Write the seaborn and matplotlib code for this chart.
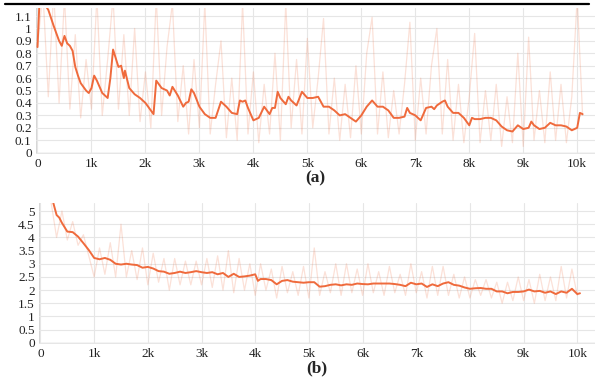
import numpy as np
import pandas as pd
import matplotlib.pyplot as plt
import seaborn as sns
from matplotlib.lines import Line2D

# --- Data ---
# panel (a): smoothed curve
A_STEPS = [0, 40, 200, 300, 400, 450, 500, 550, 600, 650, 700, 750, 800, 900, 950,
           1000, 1050, 1100, 1200, 1300, 1350, 1400, 1500, 1550, 1600, 1620, 1700,
           1800, 1900, 2000, 2100, 2150, 2200, 2300, 2400, 2450, 2500, 2600, 2700,
           2750, 2800, 2850, 2900, 3000, 3100, 3200, 3300, 3400, 3500, 3600, 3700,
           3750, 3800, 3850, 3900, 4000, 4100, 4200, 4300, 4350, 4400, 4450, 4500,
           4600, 4650, 4700, 4800, 4900, 5000, 5100, 5200, 5300, 5400, 5500, 5600,
           5700, 5800, 5900, 6000, 6100, 6200, 6300, 6400, 6500, 6600, 6700, 6800,
           6850, 6900, 7000, 7100, 7200, 7300, 7350, 7400, 7500, 7550, 7600, 7700,
           7800, 7900, 8000, 8050, 8100, 8200, 8300, 8400, 8500, 8600, 8700, 8800,
           8900, 9000, 9100, 9150, 9200, 9300, 9400, 9500, 9600, 9700, 9800, 9900,
           10000, 10050, 10100]
A_SMOOTH = [0.85, 1.25, 1.15, 1.02, 0.90, 0.86, 0.94, 0.88, 0.86, 0.82, 0.69, 0.62,
            0.56, 0.50, 0.48, 0.52, 0.62, 0.58, 0.48, 0.44, 0.60, 0.83, 0.69, 0.70,
            0.60, 0.66, 0.52, 0.47, 0.44, 0.40, 0.34, 0.31, 0.58, 0.52, 0.50, 0.46,
            0.53, 0.46, 0.37, 0.40, 0.41, 0.51, 0.48, 0.37, 0.31, 0.28, 0.28, 0.41,
            0.37, 0.32, 0.31, 0.42, 0.41, 0.42, 0.36, 0.26, 0.28, 0.37, 0.31, 0.36,
            0.36, 0.49, 0.44, 0.39, 0.45, 0.42, 0.38, 0.49, 0.44, 0.44, 0.45, 0.37,
            0.37, 0.34, 0.30, 0.31, 0.28, 0.25, 0.30, 0.37, 0.42, 0.37, 0.37, 0.34,
            0.28, 0.28, 0.29, 0.36, 0.32, 0.30, 0.26, 0.36, 0.37, 0.35, 0.38, 0.41,
            0.42, 0.37, 0.32, 0.32, 0.28, 0.22, 0.28, 0.27, 0.27, 0.28, 0.28, 0.26,
            0.21, 0.18, 0.17, 0.22, 0.19, 0.20, 0.25, 0.22, 0.19, 0.20, 0.24, 0.22,
            0.22, 0.21, 0.18, 0.20, 0.32, 0.31]

# panel (a): raw (unsmoothed) values, one per 100 steps
A_RAW_STEPS = list(range(0, 10200, 100))
A_RAW = [0.85, 1.30, 0.45, 1.30, 0.40, 1.25, 0.35, 0.95, 0.28, 0.75,
         0.35, 1.25, 0.30, 0.75, 1.25, 0.35, 0.95, 0.30, 1.00, 0.25,
         0.65, 0.20, 1.25, 0.30, 0.85, 1.20, 0.25, 0.70, 0.15, 0.75,
         0.20, 1.20, 0.15, 0.55, 0.90, 0.12, 0.60, 0.10, 1.20, 0.15,
         0.65, 0.08, 0.55, 0.15, 0.80, 0.10, 1.20, 0.20, 0.75, 0.15,
         0.92, 0.20, 0.60, 1.08, 0.15, 0.60, 0.10, 0.55, 0.12, 0.70,
         0.15, 0.80, 1.09, 0.15, 0.65, 0.12, 0.50, 0.15, 0.55, 1.05,
         0.10, 0.60, 0.15, 0.70, 1.00, 0.15, 0.75, 0.10, 0.55, 0.08,
         0.45, 0.96, 0.08, 0.50, 0.10, 0.55, 0.05, 0.45, 0.08, 0.80,
         0.05, 0.93, 0.10, 0.50, 0.08, 0.65, 0.10, 0.55, 0.08, 0.45,
         1.25, 0.30]

# panel (b): smoothed curve
B_STEPS = [240, 300, 350, 400, 500, 600, 700, 800, 900, 1000, 1100, 1200, 1300,
           1400, 1500, 1600, 1700, 1800, 1900, 2000, 2100, 2200, 2300, 2400, 2500,
           2600, 2700, 2800, 2900, 3000, 3100, 3200, 3300, 3400, 3500, 3600, 3700,
           3800, 3900, 4000, 4050, 4100, 4200, 4300, 4400, 4500, 4600, 4700, 4800,
           4900, 5000, 5100, 5200, 5300, 5400, 5500, 5600, 5700, 5800, 5900, 6000,
           6100, 6200, 6300, 6400, 6500, 6600, 6700, 6800, 6900, 7000, 7100, 7200,
           7300, 7400, 7500, 7600, 7700, 7800, 7900, 8000, 8100, 8200, 8300, 8400,
           8500, 8600, 8700, 8800, 8900, 9000, 9100, 9200, 9300, 9400, 9500, 9600,
           9700, 9800, 9900, 10000, 10050]
B_SMOOTH = [5.30, 4.85, 4.75, 4.55, 4.22, 4.20, 4.03, 3.78, 3.52, 3.22, 3.17, 3.22,
            3.15, 3.00, 2.97, 3.00, 2.97, 2.95, 2.85, 2.88, 2.82, 2.72, 2.70, 2.62,
            2.65, 2.70, 2.65, 2.68, 2.72, 2.68, 2.65, 2.68, 2.60, 2.65, 2.50, 2.62,
            2.50, 2.52, 2.55, 2.60, 2.35, 2.42, 2.42, 2.38, 2.22, 2.35, 2.38, 2.32,
            2.30, 2.28, 2.30, 2.30, 2.13, 2.15, 2.20, 2.22, 2.18, 2.22, 2.20, 2.25,
            2.23, 2.22, 2.25, 2.25, 2.25, 2.25, 2.23, 2.20, 2.15, 2.28, 2.22, 2.25,
            2.12, 2.22, 2.15, 2.25, 2.30, 2.20, 2.17, 2.10, 2.05, 2.07, 2.08, 2.05,
            2.05, 1.95, 1.95, 1.88, 1.93, 1.93, 1.95, 2.02, 1.95, 1.97, 1.90, 1.95,
            1.85, 1.95, 1.90, 2.05, 1.85, 1.88]

# panel (b): raw values, one per 100 steps
B_RAW_STEPS = list(range(200, 10100, 100))
B_RAW = [5.3, 4.0, 5.0, 3.9, 4.6, 3.7, 4.1, 3.3, 2.5, 3.6,
         2.6, 3.8, 2.5, 4.5, 2.5, 3.5, 2.4, 3.6, 2.2, 3.4,
         2.3, 3.2, 2.0, 3.2, 2.2, 3.1, 2.2, 3.1, 2.2, 3.2,
         2.1, 3.3, 2.0, 3.5, 1.9, 3.2, 2.0, 3.0, 1.8, 3.0,
         2.0, 2.8, 1.7, 2.9, 1.9, 2.7, 1.8, 2.9, 1.7, 3.6,
         1.8, 2.7, 1.9, 3.0, 1.8, 3.0, 1.9, 2.8, 1.8, 3.0,
         1.9, 2.7, 1.8, 2.9, 1.9, 2.6, 1.8, 3.0, 1.9, 2.7,
         1.7, 2.9, 1.8, 2.9, 1.8, 2.6, 1.7, 2.5, 1.7, 2.4,
         1.8, 2.4, 1.7, 2.3, 1.5, 2.3, 1.6, 2.5, 1.6, 2.4,
         1.5, 2.6, 1.6, 2.5, 1.6, 2.9, 1.7, 2.8, 1.8]

A_YTICKS = [0, 0.1, 0.2, 0.3, 0.4, 0.5, 0.6, 0.7, 0.8, 0.9, 1, 1.1]
A_YLABELS = ['0', '0.1', '0.2', '0.3', '0.4', '0.5', '0.6', '0.7', '0.8', '0.9', '1', '1.1']
B_YTICKS = [0, 0.5, 1, 1.5, 2, 2.5, 3, 3.5, 4, 4.5, 5]
B_YLABELS = ['0', '0.5', '1', '1.5', '2', '2.5', '3', '3.5', '4', '4.5', '5']
XTICKS = [0, 1000, 2000, 3000, 4000, 5000, 6000, 7000, 8000, 9000, 10000]
XLABELS = ['0', '1k', '2k', '3k', '4k', '5k', '6k', '7k', '8k', '9k', '10k']

LINE_COLOR = '#ef6a3c'

sns.set_style('whitegrid')
plt.rcParams['font.family'] = ['Liberation Serif', 'DejaVu Serif']

fig = plt.figure(figsize=(5.98, 3.79), dpi=100)
ax_a = fig.add_axes([0.060, 0.594, 0.935, 0.385])
ax_b = fig.add_axes([0.065, 0.092, 0.930, 0.372])


def draw_panel(ax, raw_x, raw_y, sm_x, sm_y, yticks, ylabels, ylim, label):
    sns.lineplot(x=raw_x, y=raw_y, ax=ax, color=LINE_COLOR, alpha=0.2, lw=0.9)
    sns.lineplot(x=sm_x, y=sm_y, ax=ax, color=LINE_COLOR, lw=1.4)
    ax.set_xlim(-30, 10330)
    ax.set_ylim(*ylim)
    ax.set_xticks(XTICKS)
    ax.set_xticklabels(XLABELS)
    ax.set_yticks(yticks)
    ax.set_yticklabels(ylabels)
    ax.tick_params(axis='both', labelsize=9.5, colors='#222222', length=0, pad=3)
    ax.grid(True, color='#e6e6e6', lw=0.8)
    ax.axvline(0, color='#cfcfcf', lw=1.2, zorder=0)
    ax.axhline(0, color='#cfcfcf', lw=1.0, zorder=0)
    for s in ax.spines.values():
        s.set_visible(False)
    ax.set_xlabel(label, fontsize=12.5, fontweight='bold', labelpad=0)
    ax.set_ylabel('')


draw_panel(ax_a, A_RAW_STEPS, A_RAW, A_STEPS, A_SMOOTH,
           A_YTICKS, A_YLABELS, (-0.01, 1.165), '(a)')
draw_panel(ax_b, B_RAW_STEPS, B_RAW, B_STEPS, B_SMOOTH,
           B_YTICKS, B_YLABELS, (-0.05, 5.3), '(b)')

# black rule at the top of the page
fig.add_artist(Line2D([0.008, 0.985], [0.989, 0.989], color='black', lw=1.6))

fig.savefig('out.png', dpi=100)
